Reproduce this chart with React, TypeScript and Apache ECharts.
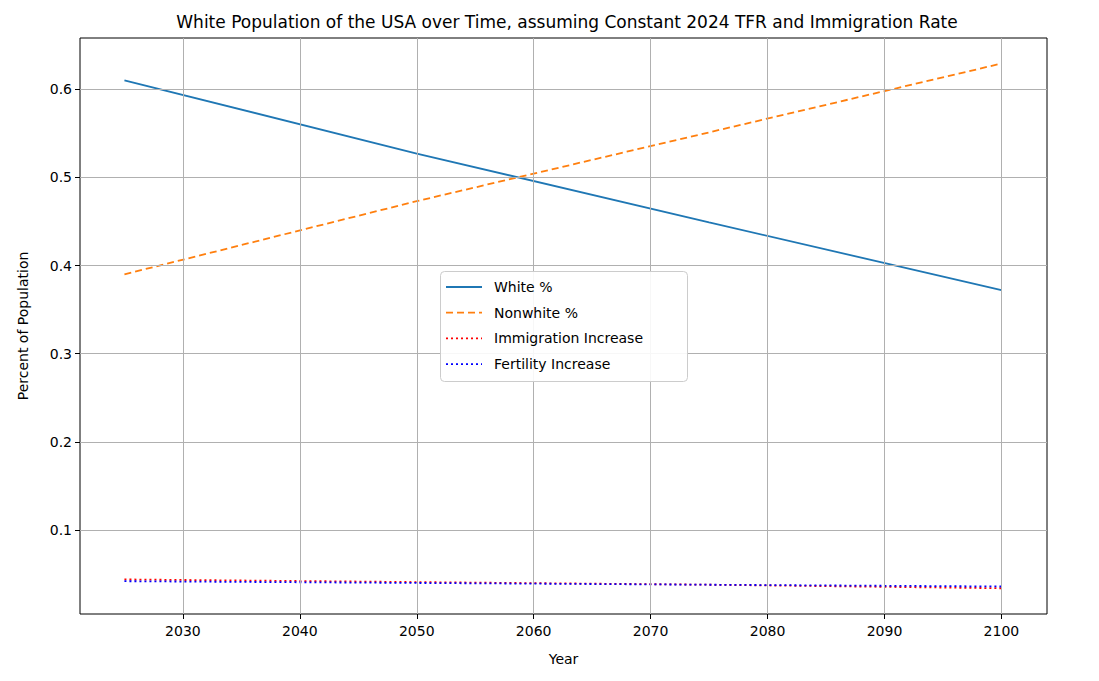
import React, { useEffect, useRef } from 'react';
import * as echarts from 'echarts';

const years = [2025, 2050, 2075, 2100];
const whitePct = [0.61, 0.527, 0.449, 0.372];
const nonwhitePct = [0.39, 0.473, 0.551, 0.629];
const immigrationInc = [0.044, 0.041, 0.038, 0.034];
const fertilityInc = [0.042, 0.040, 0.038, 0.036];
const xTicks = [2030, 2040, 2050, 2060, 2070, 2080, 2090, 2100];
const yTicks = [0.1, 0.2, 0.3, 0.4, 0.5, 0.6];

const legendItems = [
  { name: 'White %', color: '#1f77b4', dash: null as number[] | null },
  { name: 'Nonwhite %', color: '#ff7f0e', dash: [7, 4] },
  { name: 'Immigration Increase', color: '#ff0000', dash: [2, 3] },
  { name: 'Fertility Increase', color: '#0000ff', dash: [2, 3] },
];

const pairs = (vals: number[]) => years.map((y, i) => [y, vals[i]]);

const App: React.FC = () => {
  const ref = useRef<HTMLDivElement>(null);

  useEffect(() => {
    if (!ref.current) return;
    const chart = echarts.init(ref.current, undefined, { renderer: 'svg' });
    const font = 'DejaVu Sans';
    const line = (name: string, data: number[], color: string, type: any, width = 1.8) => ({
      name, type: 'line', data: pairs(data), showSymbol: false, symbol: 'none',
      lineStyle: { color, type, width }, itemStyle: { color },
    });
    const legendGraphics: any[] = [
      {
        type: 'rect', left: 432, top: 263, z: 100,
        shape: { width: 247, height: 110, r: 4 },
        style: { fill: 'rgba(255,255,255,0.9)', stroke: '#ccc', lineWidth: 1 },
      },
    ];
    legendItems.forEach((it, i) => {
      const y = 279 + i * 25.7;
      legendGraphics.push({
        type: 'line', z: 101,
        shape: { x1: 438, y1: y, x2: 474, y2: y },
        style: { stroke: it.color, lineWidth: 1.8, lineDash: it.dash ?? undefined },
      });
      legendGraphics.push({
        type: 'text', z: 101, x: 486, y,
        style: { text: it.name, fill: '#000', font: `14px ${font}`, verticalAlign: 'middle' },
      });
    });
    chart.setOption({
      animation: false,
      textStyle: { fontFamily: font },
      title: {
        text: 'White Population of the USA over Time, assuming Constant 2024 TFR and Immigration Rate',
        left: 554, top: 0, textAlign: 'center',
        textStyle: { fontFamily: font, fontSize: 17, fontWeight: 'normal', color: '#000' },
      },
      grid: { left: 70, right: 44, top: 30, bottom: 59, show: true, borderColor: '#000', borderWidth: 1 },
      xAxis: {
        type: 'value', min: 2021.2, max: 2103.9,
        name: 'Year', nameLocation: 'middle', nameGap: 38,
        nameTextStyle: { fontFamily: font, fontSize: 14, color: '#000' },
        axisLine: { show: false },
        axisTick: { show: true, length: 5, lineStyle: { color: '#000' }, customValues: xTicks },
        axisLabel: {
          color: '#000', fontSize: 14, fontFamily: font, margin: 10,
          formatter: (v: number) => String(v), customValues: xTicks,
        },
        splitLine: { show: false },
      } as any,
      yAxis: {
        type: 'value', min: 0.0048, max: 0.658,
        name: 'Percent of Population', nameLocation: 'middle', nameGap: 50,
        nameTextStyle: { fontFamily: font, fontSize: 14, color: '#000' },
        axisLine: { show: false },
        axisTick: { show: true, length: 5, lineStyle: { color: '#000' }, customValues: yTicks },
        axisLabel: { color: '#000', fontSize: 14, fontFamily: font, formatter: (v: number) => v.toFixed(1), customValues: yTicks },
        splitLine: { show: false },
      } as any,
      graphic: legendGraphics,
      series: [
        line('White %', whitePct, '#1f77b4', 'solid'),
        line('Nonwhite %', nonwhitePct, '#ff7f0e', [7, 4]),
        line('Immigration Increase', immigrationInc, '#ff0000', [2, 3]),
        line('Fertility Increase', fertilityInc, '#0000ff', [2, 3]),
        {
          type: 'line', data: [], silent: true,
          markLine: {
            symbol: 'none', silent: true, label: { show: false },
            lineStyle: { color: '#b0b0b0', type: 'solid', width: 1 },
            data: [
              ...xTicks.map(x => ({ xAxis: x })),
              ...yTicks.map(y => ({ yAxis: y })),
            ],
          },
        },
      ],
    });
    return () => chart.dispose();
  }, []);

  return <div ref={ref} style={{ width: 1083, height: 665 }} />;
};

export default App;
